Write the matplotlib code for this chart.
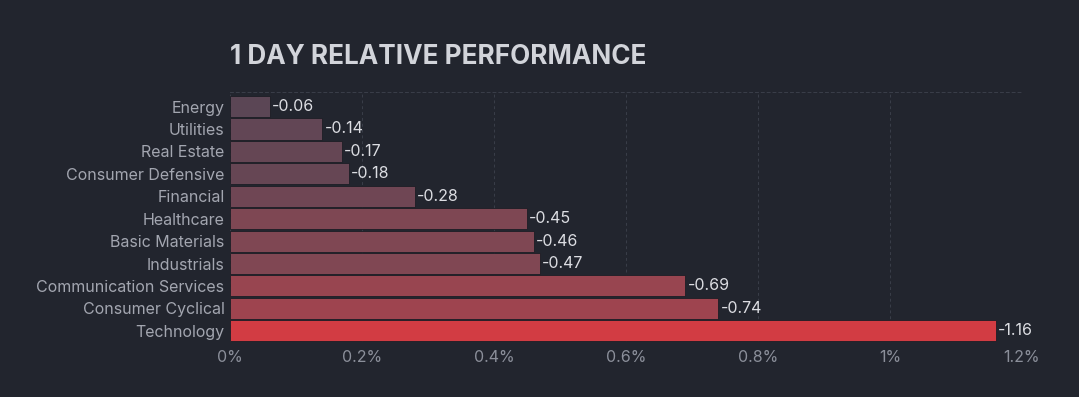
import matplotlib
matplotlib.use('Agg')
import matplotlib.pyplot as plt
from matplotlib.colors import LinearSegmentedColormap
from matplotlib.ticker import FuncFormatter
import numpy as np

sectors = ["Energy", "Utilities", "Real Estate", "Consumer Defensive", "Financial",
           "Healthcare", "Basic Materials", "Industrials", "Communication Services",
           "Consumer Cyclical", "Technology"]
changes = [-0.06, -0.14, -0.17, -0.18, -0.28, -0.45, -0.46, -0.47, -0.69, -0.74, -1.16]
xticks = [0, 0.2, 0.4, 0.6, 0.8, 1.0, 1.2]

BG = '#22252e'
plt.rcParams['font.family'] = ['Inter', 'DejaVu Sans']

fig = plt.figure(figsize=(10.79, 3.97), dpi=100, facecolor=BG)
ax = fig.add_axes([230 / 1079, 1 - 342 / 397, 792 / 1079, 250 / 397])
ax.set_facecolor(BG)

vals = np.abs(np.array(changes))
cmap = LinearSegmentedColormap.from_list('perf', ['#564655', '#8a4753', '#d23c43'])
colors = cmap(vals / vals.max())

y = np.arange(len(sectors))
ax.barh(y, vals, height=0.94, color=colors, edgecolor='#1c1e25', linewidth=0.6, zorder=3)
for yi, v, c in zip(y, vals, changes):
    ax.text(v + 0.003, yi, f"{c:.2f}", va='center', ha='left', color='#dcdde2', fontsize=11.5, zorder=4)

ax.set_yticks(y)
ax.set_yticklabels(sectors)
ax.set_ylim(len(sectors) - 0.5, -0.65)
ax.set_xlim(0, 1.2)
ax.set_xticks(xticks)
ax.xaxis.set_major_formatter(FuncFormatter(lambda v, p: f"{v:g}%"))
ax.tick_params(axis='y', length=0, pad=4, labelcolor='#a3a6b0', labelsize=11.5)
ax.tick_params(axis='x', length=0, pad=6, labelcolor='#8b8f9a', labelsize=11.5)

ax.grid(axis='x', color='#3a3e49', linestyle=(0, (3, 3)), linewidth=0.7, zorder=0)
for s in ['left', 'right', 'bottom']:
    ax.spines[s].set_visible(False)
ax.spines['top'].set_color('#3a3e49')
ax.spines['top'].set_linestyle((0, (3, 3)))
ax.spines['top'].set_linewidth(0.7)

fig.text(230 / 1079, 1 - 57 / 397, "1 DAY RELATIVE PERFORMANCE", ha='left', va='center',
         color='#d2d4da', fontsize=18.8, fontweight='bold')

fig.savefig('out.png', dpi=100, facecolor=BG)
